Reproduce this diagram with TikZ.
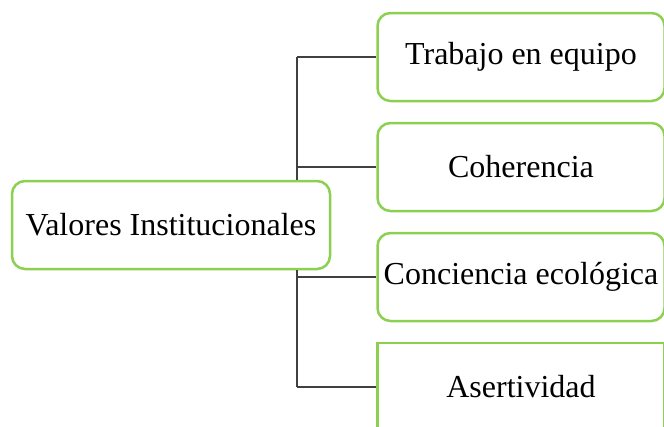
\documentclass[tikz,border=0pt]{standalone}
\usepackage{fontspec}
\setmainfont{Liberation Serif}
\usepackage{tikz}
\usetikzlibrary{positioning}
\definecolor{verde}{RGB}{140,208,80}
\definecolor{gris}{RGB}{64,64,64}
\tikzstyle{raiz} = [draw=verde, line width=2.5pt, rounded corners=13pt, fill=white, inner sep=0pt, minimum width=318pt, minimum height=88pt, font=\fontsize{32}{36}\selectfont]
\tikzstyle{valor} = [draw=verde, line width=2.5pt, rounded corners=13pt, fill=white, inner sep=0pt, minimum width=287pt, minimum height=88pt, font=\fontsize{32}{36}\selectfont]
\tikzstyle{enlace} = [draw=gris, line width=1.4pt]

\begin{document}
\begin{tikzpicture}[x=1pt,y=-1pt]
		\useasboundingbox (0,0) rectangle (664,426);
		\clip (0,0) rectangle (664,426);
		
		\node[raiz] (valores) at (171,225) {Valores Institucionales};
		
		\node[valor] (trabajo) at (521,57) {Trabajo en equipo};
		\node[valor] (coherencia) at (521,167) {Coherencia};
		\node[valor] (conciencia) at (521,277) {Conciencia ecológica};
		\node[valor, sharp corners] (asertividad) at (521,387) {Asertividad};
		
		\coordinate (t1) at (297,57);
		\coordinate (t2) at (297,167);
		\coordinate (t3) at (297,277);
		\coordinate (t4) at (297,387);
		
		\draw[enlace] (t1) -- (t1 |- valores.north);
		\draw[enlace] (valores.south -| t4) -- (t4);
		\draw[enlace] (t1) -- (trabajo.west);
		\draw[enlace] (t2) -- (coherencia.west);
		\draw[enlace] (t3) -- (conciencia.west);
		\draw[enlace] (t4) -- (asertividad.west);
	\end{tikzpicture}
\end{document}
